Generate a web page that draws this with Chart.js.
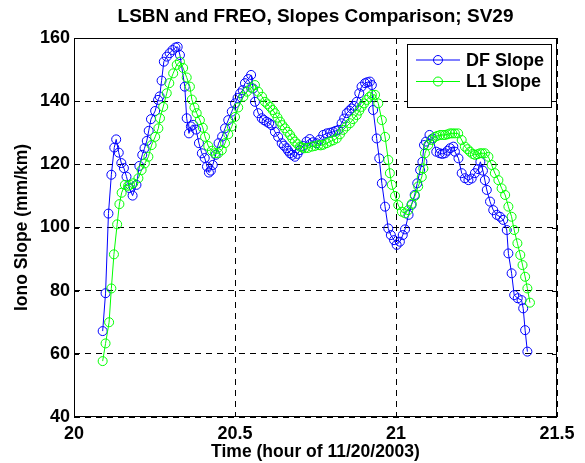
<!DOCTYPE html>
<html>
<head>
<meta charset="utf-8">
<script src="https://cdn.jsdelivr.net/npm/chart.js@4.4.0/dist/chart.umd.min.js"></script>
<style>
    html, body { margin: 0; padding: 0; background: #fff; }
    #wrap { width: 585px; height: 463px; }
</style>
</head>
<body>
<div id="wrap"><canvas id="chart" width="585" height="463"></canvas></div>
<script>
// Chart text
const titleText = 'LSBN and FREO, Slopes Comparison; SV29';
const xLabel = 'Time (hour of 11/20/2003)';
const yLabel = 'Iono Slope (mm/km)';
const seriesNames = ['DF Slope', 'L1 Slope'];

// Tick values
const xTicks = [20, 20.5, 21, 21.5];
const yTicks = [40, 60, 80, 100, 120, 140, 160];

// DF slope series (hour, mm/km)
const dfTime = [
    20.089, 20.098, 20.107, 20.116, 20.125, 20.131, 20.139, 20.147, 20.155, 20.163,
    20.172, 20.182, 20.194, 20.203, 20.212, 20.219, 20.226, 20.232, 20.239, 20.252,
    20.261, 20.266, 20.272, 20.279, 20.288, 20.297, 20.306, 20.315, 20.322, 20.329,
    20.344, 20.350, 20.357, 20.363, 20.370, 20.379, 20.388, 20.397, 20.406, 20.413,
    20.419, 20.425, 20.431, 20.440, 20.449, 20.460, 20.469, 20.479, 20.490, 20.500,
    20.508, 20.516, 20.524, 20.531, 20.541, 20.550, 20.556, 20.562, 20.572, 20.583,
    20.590, 20.598, 20.606, 20.614, 20.624, 20.634, 20.645, 20.652, 20.660, 20.665,
    20.671, 20.678, 20.686, 20.694, 20.702, 20.712, 20.722, 20.732, 20.742, 20.753,
    20.763, 20.774, 20.785, 20.795, 20.805, 20.813, 20.821, 20.831, 20.839, 20.847,
    20.855, 20.862, 20.870, 20.878, 20.886, 20.893, 20.904, 20.911, 20.919, 20.925,
    20.929, 20.940, 20.948, 20.956, 20.966, 20.976, 20.984, 20.994, 21.002, 21.012,
    21.021, 21.028, 21.039, 21.048, 21.058, 21.066, 21.075, 21.082, 21.087, 21.093,
    21.104, 21.114, 21.125, 21.136, 21.144, 21.152, 21.160, 21.168, 21.178, 21.183,
    21.194, 21.204, 21.214, 21.225, 21.235, 21.245, 21.255, 21.262, 21.270, 21.276,
    21.282, 21.292, 21.302, 21.313, 21.323, 21.333, 21.344, 21.349, 21.359, 21.367,
    21.378, 21.390, 21.395, 21.401, 21.408
];
const dfSlope = [
    67.2, 79.2, 104.4, 116.7, 125.3, 127.9, 123.7, 120.4, 118.8, 116.1,
    112.5, 110.1, 113.5, 119.5, 123.0, 125.1, 127.4, 130.6, 134.3, 136.9,
    140.4, 141.5, 146.5, 152.5, 154.1, 155.2, 156.2, 157.0, 157.2, 154.6,
    144.6, 134.6, 129.8, 132.0, 132.5, 131.0, 126.7, 123.5, 122.0, 119.3,
    117.4, 118.0, 119.8, 123.0, 126.7, 128.8, 131.4, 134.0, 136.7, 139.3,
    141.0, 142.5, 143.5, 145.7, 147.0, 148.3, 144.0, 139.8, 136.2, 134.6,
    134.0, 133.5, 133.0, 132.4, 130.3, 128.7, 126.7, 125.9, 125.1, 124.3,
    123.5, 123.0, 122.4, 123.3, 124.5, 125.8, 127.2, 128.0, 127.0, 126.7,
    127.8, 129.3, 129.8, 130.0, 130.3, 130.6, 130.9, 133.0, 134.5, 136.2,
    137.0, 137.7, 138.5, 139.8, 142.5, 144.6, 145.7, 146.0, 146.2, 145.1,
    137.2, 128.2, 121.9, 114.0, 106.6, 99.7, 97.6, 96.0, 94.5, 95.5,
    97.6, 99.4, 104.0, 107.1, 110.3, 114.0, 118.2, 120.8, 126.1, 127.2,
    129.3, 128.2, 124.0, 123.5, 123.3, 123.5, 124.3, 125.1, 125.6, 124.0,
    121.9, 117.2, 115.6, 115.0, 115.5, 117.2, 118.5, 120.8, 118.0, 115.0,
    111.9, 108.2, 105.5, 104.0, 103.4, 102.4, 99.2, 91.8, 85.5, 78.6,
    77.6, 77.0, 74.4, 67.5, 60.7
];

// L1 slope series (hour, mm/km)
const l1Time = [
    20.089, 20.098, 20.109, 20.116, 20.124, 20.134, 20.141, 20.148, 20.158, 20.168,
    20.174, 20.184, 20.200, 20.210, 20.220, 20.231, 20.241, 20.252, 20.262, 20.267,
    20.277, 20.288, 20.296, 20.308, 20.319, 20.329, 20.339, 20.350, 20.360, 20.366,
    20.374, 20.381, 20.391, 20.400, 20.407, 20.417, 20.428, 20.438, 20.448, 20.459,
    20.469, 20.479, 20.490, 20.500, 20.510, 20.526, 20.537, 20.550, 20.562, 20.572,
    20.584, 20.593, 20.601, 20.609, 20.617, 20.624, 20.632, 20.640, 20.647, 20.655,
    20.663, 20.671, 20.678, 20.686, 20.694, 20.702, 20.710, 20.717, 20.727, 20.738,
    20.748, 20.759, 20.766, 20.774, 20.785, 20.795, 20.805, 20.816, 20.826, 20.836,
    20.846, 20.857, 20.867, 20.878, 20.886, 20.893, 20.901, 20.909, 20.917, 20.925,
    20.935, 20.945, 20.956, 20.966, 20.976, 20.981, 20.987, 20.997, 21.007, 21.018,
    21.028, 21.038, 21.049, 21.059, 21.069, 21.080, 21.085, 21.090, 21.100, 21.111,
    21.121, 21.128, 21.137, 21.145, 21.152, 21.160, 21.168, 21.175, 21.183, 21.193,
    21.204, 21.214, 21.222, 21.230, 21.238, 21.245, 21.253, 21.261, 21.268, 21.276,
    21.287, 21.297, 21.307, 21.318, 21.328, 21.339, 21.349, 21.359, 21.367, 21.377,
    21.386, 21.393, 21.401, 21.408, 21.416
];
const l1Slope = [
    57.7, 63.3, 70.0, 80.7, 91.5, 101.0, 107.4, 111.0, 113.5, 113.2,
    113.5, 114.0, 115.6, 118.2, 120.3, 122.4, 126.1, 128.7, 131.4, 134.6,
    138.2, 142.5, 145.7, 148.8, 151.5, 152.5, 150.5, 147.5, 144.6, 140.5,
    138.0, 136.2, 134.0, 131.6, 128.7, 125.8, 124.3, 123.5, 123.5, 124.5,
    126.7, 129.5, 132.0, 135.0, 138.0, 141.4, 143.0, 144.3, 145.1, 143.0,
    141.4, 139.8, 139.0, 138.2, 137.2, 136.2, 134.8, 133.5, 132.4, 131.4,
    130.3, 129.3, 128.2, 127.2, 126.4, 125.6, 125.3, 125.1, 125.2, 125.6,
    125.8, 126.1, 126.0, 126.2, 126.7, 127.2, 127.6, 128.2, 129.5, 130.9,
    132.0, 133.0, 134.3, 135.6, 137.0, 138.2, 139.3, 140.4, 141.3, 142.0,
    142.0, 139.3, 134.0, 128.7, 121.4, 117.2, 113.5, 110.0, 107.1, 105.0,
    104.5, 105.5, 107.5, 110.0, 113.0, 116.0, 118.7, 123.5, 126.1, 127.7,
    128.7, 129.0, 129.3, 129.3, 129.3, 129.5, 129.8, 129.8, 129.8, 129.8,
    127.7, 125.6, 124.8, 124.0, 123.3, 123.0, 123.2, 123.5, 123.5, 123.5,
    122.4, 119.8, 117.2, 115.0, 112.4, 110.3, 106.6, 103.4, 99.2, 95.0,
    91.3, 88.1, 84.4, 80.7, 76.2
];

const colors = ['#0000ff', '#00ff00'];
const FONT = '"Liberation Sans", Arial, Helvetica, sans-serif';

function toPoints(times, values) {
    return times.map((t, i) => ({ x: t, y: values[i] }));
}

// MATLAB-style frame, inward ticks, title, axis labels and boxed legend
const matlabFrame = {
    id: 'matlabFrame',
    afterDraw(chart) {
        const { ctx, chartArea: a, scales: { x, y } } = chart;
        ctx.save();
        ctx.strokeStyle = '#000';
        ctx.lineWidth = 1;
        ctx.setLineDash([]);
        ctx.strokeRect(Math.round(a.left) + 0.5, Math.round(a.top) + 0.5,
            Math.round(a.right - a.left) - 1, Math.round(a.bottom - a.top) - 1);

        const tl = 5;
        ctx.beginPath();
        xTicks.forEach(v => {
            const px = Math.round(x.getPixelForValue(v)) + 0.5;
            ctx.moveTo(px, a.bottom); ctx.lineTo(px, a.bottom - tl);
            ctx.moveTo(px, a.top); ctx.lineTo(px, a.top + tl);
        });
        yTicks.forEach(v => {
            const py = Math.round(y.getPixelForValue(v)) + 0.5;
            ctx.moveTo(a.left, py); ctx.lineTo(a.left + tl, py);
            ctx.moveTo(a.right, py); ctx.lineTo(a.right - tl, py);
        });
        ctx.stroke();

        ctx.fillStyle = '#000';
        ctx.textAlign = 'center';
        ctx.textBaseline = 'middle';
        ctx.font = 'bold 19px ' + FONT;
        ctx.fillText(titleText, (a.left + a.right) / 2, 17);
        ctx.font = 'bold 17.5px ' + FONT;
        ctx.fillText(xLabel, (a.left + a.right) / 2, 452);
        ctx.save();
        ctx.translate(22, (a.top + a.bottom) / 2);
        ctx.rotate(-Math.PI / 2);
        ctx.fillText(yLabel, 0, 0);
        ctx.restore();

        // legend box
        const lx = 407.5, ly = 44.5, lw = 144, lh = 63;
        ctx.fillStyle = '#fff';
        ctx.fillRect(lx, ly, lw, lh);
        ctx.strokeStyle = '#000';
        ctx.strokeRect(lx, ly, lw, lh);
        seriesNames.forEach((name, i) => {
            const cy = 60 + i * 21.5;
            ctx.strokeStyle = colors[i];
            ctx.beginPath();
            ctx.moveTo(416, cy); ctx.lineTo(460, cy);
            ctx.stroke();
            ctx.beginPath();
            ctx.arc(438, cy, 4.5, 0, Math.PI * 2);
            ctx.stroke();
            ctx.fillStyle = '#000';
            ctx.textAlign = 'left';
            ctx.font = 'bold 18px ' + FONT;
            ctx.fillText(name, 466, cy + 1);
        });
        ctx.restore();
    }
};

const ctx = document.getElementById('chart').getContext('2d');
new Chart(ctx, {
    type: 'line',
    data: {
        datasets: [
            {
                label: seriesNames[0],
                data: toPoints(dfTime, dfSlope),
                borderColor: colors[0],
                borderWidth: 1,
                pointRadius: 4.5,
                pointBorderWidth: 1,
                pointBorderColor: colors[0],
                pointBackgroundColor: 'rgba(0,0,0,0)',
                tension: 0,
                order: 1
            },
            {
                label: seriesNames[1],
                data: toPoints(l1Time, l1Slope),
                borderColor: colors[1],
                borderWidth: 1,
                pointRadius: 4.5,
                pointBorderWidth: 1,
                pointBorderColor: colors[1],
                pointBackgroundColor: 'rgba(0,0,0,0)',
                tension: 0,
                order: 0
            }
        ]
    },
    options: {
        responsive: false,
        animation: false,
        devicePixelRatio: 1,
        layout: { padding: { left: 0, right: 28, top: 38, bottom: 0 } },
        plugins: {
            legend: { display: false },
            title: { display: false },
            tooltip: { enabled: false }
        },
        scales: {
            x: {
                type: 'linear',
                min: 20,
                max: 21.5,
                afterBuildTicks: s => { s.ticks = xTicks.map(v => ({ value: v })); },
                afterFit: s => { s.height = 46; },
                grid: { color: '#000', lineWidth: 1, drawTicks: false },
                border: { display: false, dash: [6, 5] },
                ticks: {
                    color: '#000',
                    padding: 6,
                    maxRotation: 0,
                    font: { family: FONT, size: 18, weight: 'bold' },
                    callback: v => String(v)
                }
            },
            y: {
                min: 40,
                max: 160,
                afterBuildTicks: s => { s.ticks = yTicks.map(v => ({ value: v })); },
                afterFit: s => { s.width = 74; },
                grid: { color: '#000', lineWidth: 1, drawTicks: false },
                border: { display: false, dash: [6, 5] },
                ticks: {
                    color: '#000',
                    padding: 4,
                    font: { family: FONT, size: 18, weight: 'bold' },
                    callback: v => String(v)
                }
            }
        }
    },
    plugins: [matlabFrame]
});
</script>
</body>
</html>
